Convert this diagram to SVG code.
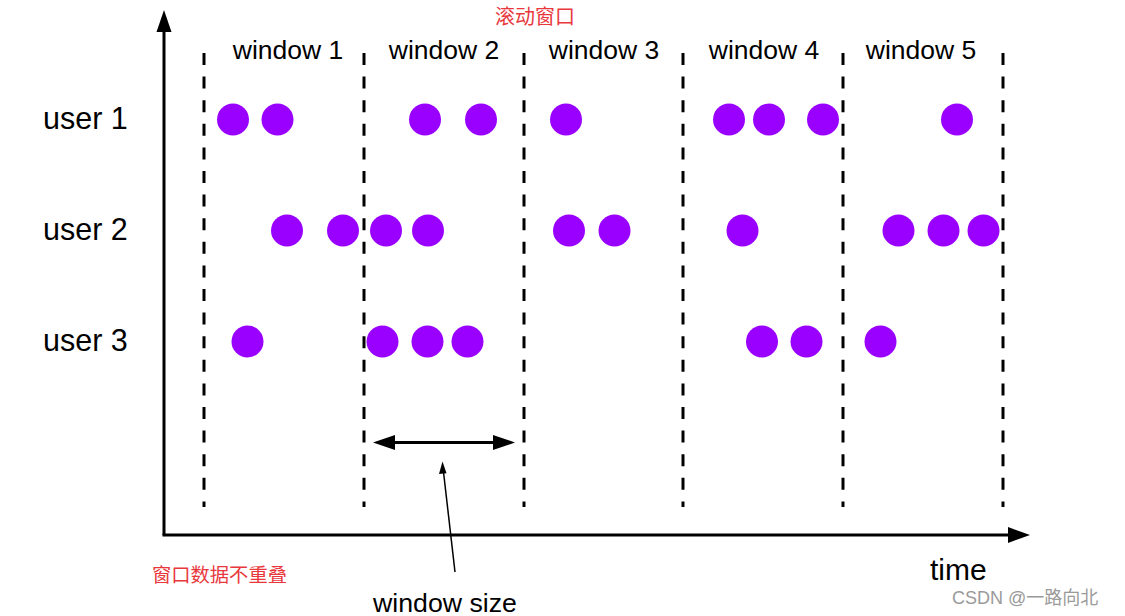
<svg xmlns="http://www.w3.org/2000/svg" width="1125" height="616" viewBox="0 0 1125 616">
<style>
.lbl{font-family:"Liberation Sans",Arial,sans-serif;fill:#000}
.win{font-size:26.5px;text-anchor:middle}
.usr{font-size:30.5px}
.red{font-family:"Liberation Sans","Noto Sans CJK SC",sans-serif;fill:#e8383d}
.dash{stroke:#000;stroke-width:3;stroke-dasharray:12 11.6;fill:none}
.ev{fill:#9900ff}
.ax{stroke:#000;stroke-width:3;fill:none}
</style>
<rect width="1125" height="616" fill="#fff"/>
<g id="axes">
<line class="ax" x1="164" y1="30" x2="164" y2="535"/>
<line class="ax" x1="162.5" y1="535" x2="1010" y2="535"/>
<polygon points="164,10 156.5,32 171.5,32"/>
<polygon points="1030,535 1008,527 1008,543"/>
</g>
<g id="window-bounds">
<line class="dash" x1="204" y1="53" x2="204" y2="507"/>
<line class="dash" x1="364" y1="53" x2="364" y2="507"/>
<line class="dash" x1="524" y1="53" x2="524" y2="507"/>
<line class="dash" x1="683" y1="53" x2="683" y2="507"/>
<line class="dash" x1="843" y1="53" x2="843" y2="507"/>
<line class="dash" x1="1003" y1="53" x2="1003" y2="507"/>
</g>
<g id="window-labels">
<text class="lbl win" x="288" y="59">window 1</text>
<text class="lbl win" x="444" y="59">window 2</text>
<text class="lbl win" x="604" y="59">window 3</text>
<text class="lbl win" x="764" y="59">window 4</text>
<text class="lbl win" x="921" y="59">window 5</text>
</g>
<g id="user-labels">
<text class="lbl usr" x="43" y="129">user 1</text>
<text class="lbl usr" x="43" y="240">user 2</text>
<text class="lbl usr" x="43" y="351">user 3</text>
</g>
<g id="user1-events">
<circle class="ev" cx="233" cy="119.5" r="16"/>
<circle class="ev" cx="277.5" cy="119.5" r="16"/>
<circle class="ev" cx="425" cy="119.5" r="16"/>
<circle class="ev" cx="481" cy="119.5" r="16"/>
<circle class="ev" cx="566" cy="119.5" r="16"/>
<circle class="ev" cx="729" cy="119.5" r="16"/>
<circle class="ev" cx="769" cy="119.5" r="16"/>
<circle class="ev" cx="823" cy="119.5" r="16"/>
<circle class="ev" cx="957" cy="119.5" r="16"/>
</g>
<g id="user2-events">
<circle class="ev" cx="287" cy="230.5" r="16"/>
<circle class="ev" cx="343" cy="230.5" r="16"/>
<circle class="ev" cx="386" cy="230.5" r="16"/>
<circle class="ev" cx="428" cy="230.5" r="16"/>
<circle class="ev" cx="569" cy="230.5" r="16"/>
<circle class="ev" cx="614.5" cy="230.5" r="16"/>
<circle class="ev" cx="742.5" cy="230.5" r="16"/>
<circle class="ev" cx="898.5" cy="230.5" r="16"/>
<circle class="ev" cx="943.5" cy="230.5" r="16"/>
<circle class="ev" cx="983.5" cy="230.5" r="16"/>
</g>
<g id="user3-events">
<circle class="ev" cx="247.5" cy="341.5" r="16"/>
<circle class="ev" cx="382.5" cy="341.5" r="16"/>
<circle class="ev" cx="427.5" cy="341.5" r="16"/>
<circle class="ev" cx="467.5" cy="341.5" r="16"/>
<circle class="ev" cx="762" cy="341.5" r="16"/>
<circle class="ev" cx="806.5" cy="341.5" r="16"/>
<circle class="ev" cx="880.5" cy="341.5" r="16"/>
</g>
<g id="connectors">
<line x1="390" y1="442.5" x2="498" y2="442.5" stroke="#000" stroke-width="3"/>
<polygon points="373,442.5 395,435 395,450"/>
<polygon points="515,442.5 493,435 493,450"/>
<line x1="455" y1="572" x2="443.5" y2="472" stroke="#000" stroke-width="1.5"/>
<polygon points="442.5,461.5 439,474 446.5,473.2"/>
</g>
<g id="axis-labels">
<text class="lbl" x="930" y="580" font-size="30">time</text>
<text class="lbl" x="373" y="612" font-size="26.7">window size</text>
</g>
<g id="annotations">
<text class="red" x="495" y="24" font-size="20">滚动窗口</text>
<text class="red" x="152" y="582" font-size="19.3">窗口数据不重叠</text>
<text x="952" y="604" font-size="18" fill="#9a9a9a" font-family="'Liberation Sans','Noto Sans CJK SC',sans-serif">CSDN @一路向北</text>
</g>
</svg>
